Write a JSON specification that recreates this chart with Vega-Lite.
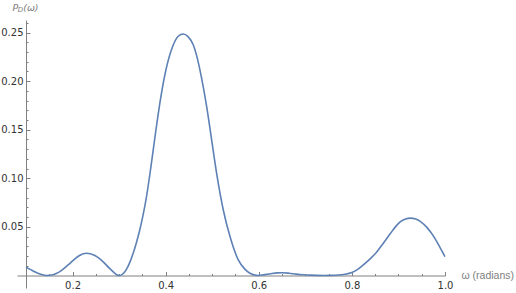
{
  "$schema": "https://vega.github.io/schema/vega-lite/v6.json",
  "width": 428,
  "height": 268,
  "autosize": {"type": "none"},
  "padding": {"left": 17, "top": 20, "right": 71, "bottom": 5},
  "config": {"view": {"stroke": null}, "axis": {"grid": false}},
  "data": {"values": [
    {"w": 0.100, "p": 0.0085}, {"w": 0.110, "p": 0.0060}, {"w": 0.120, "p": 0.0035}, {"w": 0.130, "p": 0.0015},
    {"w": 0.140, "p": 0.0003}, {"w": 0.147, "p": 0.0}, {"w": 0.155, "p": 0.0004}, {"w": 0.165, "p": 0.0020},
    {"w": 0.175, "p": 0.0047}, {"w": 0.185, "p": 0.0085}, {"w": 0.195, "p": 0.0128}, {"w": 0.205, "p": 0.0170},
    {"w": 0.215, "p": 0.0205}, {"w": 0.223, "p": 0.0223}, {"w": 0.230, "p": 0.0228}, {"w": 0.238, "p": 0.0224},
    {"w": 0.248, "p": 0.0205}, {"w": 0.258, "p": 0.0173}, {"w": 0.268, "p": 0.0130}, {"w": 0.278, "p": 0.0080},
    {"w": 0.288, "p": 0.0035}, {"w": 0.295, "p": 0.0008}, {"w": 0.300, "p": 0.0}, {"w": 0.305, "p": 0.0006},
    {"w": 0.310, "p": 0.0025}, {"w": 0.316, "p": 0.0065}, {"w": 0.323, "p": 0.0135}, {"w": 0.330, "p": 0.0225},
    {"w": 0.337, "p": 0.0335}, {"w": 0.344, "p": 0.0460}, {"w": 0.351, "p": 0.0610}, {"w": 0.3577, "p": 0.0777},
    {"w": 0.3684, "p": 0.1120}, {"w": 0.3791, "p": 0.1497}, {"w": 0.3898, "p": 0.1840}, {"w": 0.4005, "p": 0.2114},
    {"w": 0.4148, "p": 0.2354}, {"w": 0.427, "p": 0.2462}, {"w": 0.4379, "p": 0.2485}, {"w": 0.448, "p": 0.2458},
    {"w": 0.4597, "p": 0.2370}, {"w": 0.4667, "p": 0.2260}, {"w": 0.4737, "p": 0.2114}, {"w": 0.4881, "p": 0.1737},
    {"w": 0.4988, "p": 0.1394}, {"w": 0.5095, "p": 0.1051}, {"w": 0.5238, "p": 0.0674}, {"w": 0.5382, "p": 0.0400},
    {"w": 0.556, "p": 0.0160}, {"w": 0.570, "p": 0.0065}, {"w": 0.5811, "p": 0.0023}, {"w": 0.599, "p": 0.0},
    {"w": 0.610, "p": 0.0006}, {"w": 0.625, "p": 0.0018}, {"w": 0.640, "p": 0.0027}, {"w": 0.650, "p": 0.0028},
    {"w": 0.665, "p": 0.0023}, {"w": 0.680, "p": 0.0014}, {"w": 0.695, "p": 0.0007}, {"w": 0.710, "p": 0.0003},
    {"w": 0.725, "p": 0.0001}, {"w": 0.740, "p": 0.0}, {"w": 0.755, "p": 0.0001}, {"w": 0.770, "p": 0.0004},
    {"w": 0.785, "p": 0.0012}, {"w": 0.800, "p": 0.0030}, {"w": 0.8125, "p": 0.0062}, {"w": 0.8246, "p": 0.0108},
    {"w": 0.838, "p": 0.0165}, {"w": 0.853, "p": 0.0240}, {"w": 0.868, "p": 0.0335}, {"w": 0.883, "p": 0.0434},
    {"w": 0.8944, "p": 0.0505}, {"w": 0.9044, "p": 0.0554}, {"w": 0.915, "p": 0.0580}, {"w": 0.9259, "p": 0.0590},
    {"w": 0.937, "p": 0.0580}, {"w": 0.9474, "p": 0.0554}, {"w": 0.962, "p": 0.0490}, {"w": 0.976, "p": 0.0400},
    {"w": 0.988, "p": 0.0300}, {"w": 1.000, "p": 0.0193}
  ]},
  "layer": [
    {
      "mark": {"type": "line", "color": "#5E81B5", "strokeWidth": 1.6, "interpolate": "monotone"},
      "encoding": {
        "x": {
          "field": "w", "type": "quantitative",
          "scale": {"domain": [0.0807, 1.0], "nice": false, "zero": false},
          "axis": {
            "orient": "bottom", "offset": -12.5,
            "values": [0.2, 0.4, 0.6, 0.8, 1.0], "format": ".1f",
            "tickSize": -4, "tickWidth": 1,
            "domainColor": "#808080", "tickColor": "#808080",
            "labelColor": "#333333", "labelFont": "DejaVu Sans", "labelFontSize": 10,
            "labelPadding": 8.5, "labelFlush": false, "labelOverlap": false,
            "title": "ω (radians)", "titleX": 444, "titleY": 0, "titleAlign": "left", "titleBaseline": "middle",
            "titleFont": "Liberation Sans", "titleFontSize": 10.5, "titleFontWeight": "normal", "titleColor": "#808080"
          }
        },
        "y": {
          "field": "p", "type": "quantitative",
          "scale": {"domain": [-0.0129, 0.2629], "nice": false, "zero": false},
          "axis": {
            "orient": "left", "offset": -9,
            "values": [0.05, 0.1, 0.15, 0.2, 0.25], "format": ".2f",
            "tickSize": -4, "tickWidth": 1,
            "domainColor": "#808080", "tickColor": "#808080",
            "labelColor": "#333333", "labelFont": "DejaVu Sans", "labelFontSize": 10,
            "labelPadding": 7, "labelFlush": false, "labelOverlap": false,
            "title": "P", "titleX": -14, "titleY": -9.3, "titleAngle": 0, "titleAlign": "left", "titleBaseline": "alphabetic",
            "titleFont": "DejaVu Sans", "titleFontSize": 9.5, "titleFontStyle": "italic", "titleFontWeight": "normal", "titleColor": "#808080"
          }
        }
      }
    },
    {
      "mark": {"type": "line", "opacity": 0},
      "encoding": {
        "x": {
          "field": "w", "type": "quantitative",
          "axis": {
            "orient": "bottom", "offset": -12.5, "domain": false, "labels": false, "title": null,
            "values": [0.15, 0.25, 0.3, 0.35, 0.45, 0.5, 0.55, 0.65, 0.7, 0.75, 0.85, 0.9, 0.95],
            "tickSize": -2, "tickWidth": 1, "tickColor": "#808080"
          }
        },
        "y": {
          "field": "p", "type": "quantitative",
          "axis": {
            "orient": "left", "offset": -9, "domain": false, "labels": false,
            "values": [0.01, 0.02, 0.03, 0.04, 0.06, 0.07, 0.08, 0.09, 0.11, 0.12, 0.13, 0.14, 0.16, 0.17, 0.18, 0.19, 0.21, 0.22, 0.23, 0.24, 0.26],
            "tickSize": -2, "tickWidth": 1, "tickColor": "#808080",
            "title": "D", "titleX": -8.7, "titleY": -8.3, "titleAngle": 0, "titleAlign": "left", "titleBaseline": "alphabetic",
            "titleFont": "DejaVu Sans", "titleFontSize": 7, "titleFontStyle": "italic", "titleFontWeight": "normal", "titleColor": "#808080"
          }
        }
      }
    },
    {
      "mark": {"type": "line", "opacity": 0},
      "encoding": {
        "x": {"field": "w", "type": "quantitative", "axis": null},
        "y": {
          "field": "p", "type": "quantitative",
          "axis": {
            "orient": "left", "offset": -9, "domain": false, "ticks": false, "labels": false,
            "title": "(ω)", "titleX": -3.3, "titleY": -9.3, "titleAngle": 0, "titleAlign": "left", "titleBaseline": "alphabetic",
            "titleFont": "DejaVu Sans", "titleFontSize": 9.5, "titleFontStyle": "italic", "titleFontWeight": "normal", "titleColor": "#808080"
          }
        }
      }
    }
  ],
  "resolve": {"axis": {"x": "independent", "y": "independent"}}
}
